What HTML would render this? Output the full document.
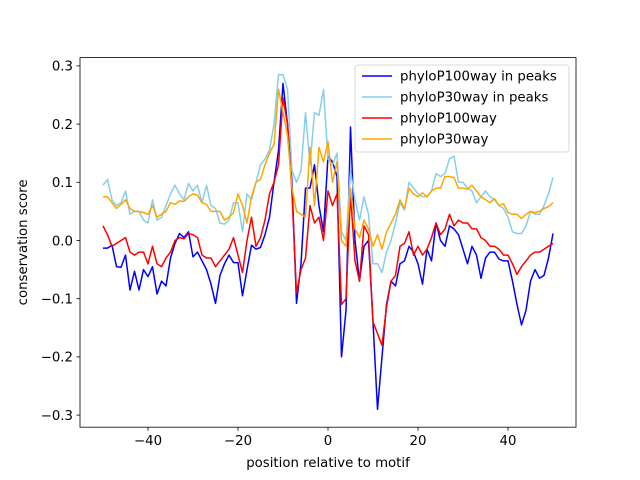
<!DOCTYPE html>
<html><head><meta charset="utf-8"><style>
body{margin:0;background:#fff}
svg{display:block;font-family:"DejaVu Sans","Liberation Sans",sans-serif}
</style></head><body>
<svg id="chart" width="640" height="480" viewBox="0 0 640 480" xmlns="http://www.w3.org/2000/svg">
<rect width="640" height="480" fill="#fff"/>
<g id="plot"></g>
<rect x="80" y="57.6" width="496" height="369.6" fill="none" stroke="#000" stroke-width="0.8"/>
<g id="axes"></g>
<text x="328" y="467" font-size="13.3" text-anchor="middle">position relative to motif</text>
<text transform="translate(27,242.4) rotate(-90)" font-size="13.3" text-anchor="middle">conservation score</text>
<g id="legend">
<rect x="355" y="65" width="214" height="87" fill="#fff" fill-opacity="0.8" stroke="#ccc" stroke-width="0.8" rx="3"/>
</g>
</svg>
<script>
const xValues = Array.from({length:101},(_, i)=>i-50);
const blueValues = [-0.013,-0.013,-0.008,-0.045,-0.046,-0.025,-0.085,-0.053,-0.085,-0.05,-0.062,-0.045,-0.092,-0.07,-0.078,-0.03,-0.005,0.012,0.005,0.015,-0.028,-0.02,-0.035,-0.05,-0.075,-0.108,-0.06,-0.04,-0.025,-0.038,-0.038,-0.095,-0.05,-0.008,-0.015,-0.012,0.01,0.04,0.1,0.155,0.27,0.2,0.1,-0.108,-0.04,0.09,0.09,0.13,0.06,0.015,0.145,0.135,0.11,-0.2,-0.12,0.195,0.0,-0.07,-0.01,0.0,-0.14,-0.29,-0.2,-0.11,-0.07,-0.078,-0.04,-0.035,-0.01,-0.02,-0.04,-0.075,-0.015,-0.035,0.03,0.0,-0.01,0.025,0.02,0.01,-0.015,-0.04,-0.01,-0.025,-0.065,-0.03,-0.02,-0.02,-0.032,-0.035,-0.035,-0.07,-0.11,-0.145,-0.12,-0.07,-0.05,-0.065,-0.06,-0.03,0.012];
const skyValues = [0.095,0.105,0.07,0.06,0.065,0.085,0.045,0.05,0.05,0.035,0.03,0.07,0.035,0.04,0.06,0.08,0.095,0.08,0.07,0.098,0.085,0.095,0.065,0.095,0.06,0.055,0.03,0.028,0.035,0.065,0.065,0.015,0.08,0.07,0.1,0.13,0.14,0.155,0.2,0.285,0.285,0.26,0.12,0.1,0.12,0.22,0.13,0.22,0.215,0.26,0.14,0.13,0.15,0.015,0.0,0.12,0.07,0.035,0.075,0.045,-0.04,-0.04,-0.055,-0.02,0.0,0.03,0.065,0.052,0.1,0.09,0.08,0.075,0.075,0.085,0.115,0.11,0.115,0.14,0.145,0.1,0.1,0.09,0.085,0.065,0.075,0.085,0.075,0.07,0.06,0.055,0.04,0.015,0.012,0.012,0.025,0.05,0.045,0.045,0.06,0.08,0.108];
const redValues = [0.025,0.01,-0.01,-0.005,0.0,0.005,-0.02,-0.025,-0.02,-0.02,-0.04,-0.01,-0.04,-0.045,-0.03,-0.02,0.0,0.005,0.003,0.012,0.01,0.005,-0.025,-0.03,-0.03,-0.045,-0.035,-0.025,-0.015,0.005,-0.025,-0.055,0.0,0.04,-0.01,0.005,0.035,0.08,0.1,0.13,0.245,0.2,0.08,-0.09,-0.05,-0.03,0.06,0.03,0.04,0.0,0.085,0.06,0.08,-0.11,-0.1,0.08,-0.035,-0.07,0.025,0.01,-0.14,-0.16,-0.18,-0.115,-0.07,-0.06,-0.01,-0.005,0.015,-0.025,-0.01,-0.025,-0.015,0.005,0.03,0.01,0.02,0.045,0.025,0.035,0.03,0.03,0.02,0.02,0.005,0.0,-0.01,-0.01,-0.015,-0.025,-0.025,-0.04,-0.058,-0.045,-0.035,-0.025,-0.02,-0.02,-0.015,-0.01,-0.005];
const orangeValues = [0.075,0.075,0.065,0.055,0.062,0.07,0.055,0.05,0.05,0.048,0.045,0.06,0.04,0.045,0.05,0.065,0.062,0.068,0.067,0.075,0.08,0.078,0.065,0.062,0.05,0.05,0.05,0.035,0.04,0.048,0.08,0.06,0.03,0.075,0.1,0.105,0.13,0.15,0.165,0.26,0.22,0.18,0.09,0.05,0.045,0.04,0.16,0.06,0.16,0.135,0.17,0.1,0.135,0.0,-0.01,0.09,0.02,0.005,0.035,0.02,-0.01,0.01,-0.015,0.015,0.03,0.045,0.07,0.055,0.09,0.08,0.075,0.082,0.075,0.085,0.09,0.09,0.11,0.11,0.108,0.09,0.09,0.088,0.095,0.085,0.075,0.07,0.065,0.072,0.06,0.063,0.048,0.045,0.045,0.038,0.045,0.05,0.048,0.05,0.055,0.058,0.065];
const xTicks = [-40,-20,0,20,40];
const yTicks = [-0.3,-0.2,-0.1,0.0,0.1,0.2,0.3];
const seriesNames = ["phyloP100way in peaks","phyloP30way in peaks","phyloP100way","phyloP30way"];
const seriesColors = ["#0000ff","#87ceeb","#ff0000","#ffa500"];
const seriesData = [blueValues, skyValues, redValues, orangeValues];

const NS="http://www.w3.org/2000/svg";
const sx = v => 328 + v*4.5;
const sy = v => 240.5 - v*582;
const plot=document.getElementById('plot'), axes=document.getElementById('axes'), legend=document.getElementById('legend');
function mk(tag, attrs, parent){const e=document.createElementNS(NS,tag);for(const k in attrs)e.setAttribute(k,attrs[k]);parent.appendChild(e);return e;}
const keys=['series-100way-peaks','series-30way-peaks','series-100way','series-30way'];
seriesData.forEach((vals,si)=>{
  const pts=vals.map((v,i)=>sx(xValues[i]).toFixed(1)+','+sy(v).toFixed(1)).join(' ');
  const pl=mk('polyline',{points:pts,fill:'none',stroke:seriesColors[si],'stroke-width':1.5,'stroke-linejoin':'round'},plot);
  
  
  const ly=76+si*21;
  const ll=mk('line',{x1:362,x2:392,y1:ly,y2:ly,stroke:seriesColors[si],'stroke-width':1.5},legend);
  
  
  const lt=mk('text',{x:400,y:ly+4.5,'font-size':13.3},legend);
  lt.textContent=seriesNames[si];
  
  
});
xTicks.forEach(t=>{
  const x=sx(t);
  const tk=mk('line',{x1:x,x2:x,y1:427.2,y2:430.7,stroke:'#000','stroke-width':0.8},axes);
  
  
  const tl=mk('text',{x:x,y:445,'font-size':13.3,'text-anchor':'middle'},axes);
  tl.textContent=(t<0?'\u2212'+(-t):t);
  
  
});
yTicks.forEach(t=>{
  const y=sy(t);
  const tk=mk('line',{x1:76.5,x2:80,y1:y,y2:y,stroke:'#000','stroke-width':0.8},axes);
  
  
  const tl=mk('text',{x:73,y:y+4.8,'font-size':13.3,'text-anchor':'end'},axes);
  tl.textContent=(t<0?'\u2212':'')+Math.abs(t).toFixed(1);
  
  
});
</script>
</body></html>
